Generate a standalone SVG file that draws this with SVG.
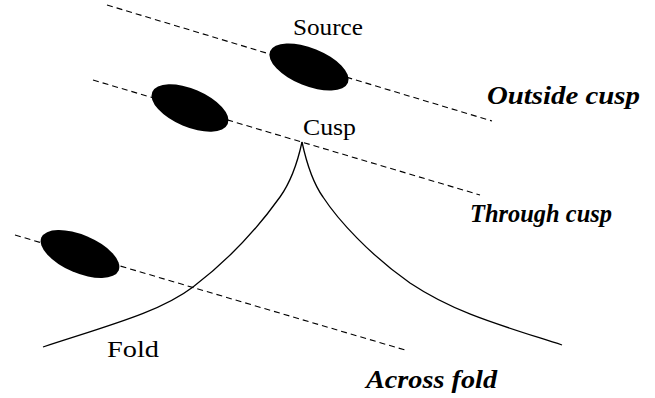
<svg xmlns="http://www.w3.org/2000/svg" width="655" height="398" viewBox="0 0 655 398">
<style>
.ray{stroke:#000;stroke-width:1.1;stroke-dasharray:6 4;fill:none}
.caustic{stroke:#000;stroke-width:1.3;fill:none}
.src{fill:#000}
.lbl{font-family:"Liberation Serif",serif;font-size:23px;fill:#000}
.cap{font-family:"Liberation Serif",serif;font-size:25px;font-style:italic;font-weight:bold;fill:#000}
</style>
<rect width="655" height="398" fill="#fff"/>
<g id="connectors">
<line class="ray" x1="107" y1="5" x2="492" y2="121"/>
<line class="ray" x1="93" y1="80" x2="480" y2="195"/>
<line class="ray" x1="15" y1="235" x2="405" y2="350"/>
</g>
<g id="caustic">
<path class="caustic" d="M302,142 C297,165 290,183 280,197 C265,218 235,255 193,287 C160,312 110,325 43,347"/>
<path class="caustic" d="M302,142 C307,165 313,183 323,197 C338,220 370,255 410,283 C455,313 500,325 562,345"/>
</g>
<g id="source-outside"><ellipse class="src" cx="309" cy="67" rx="42" ry="19" transform="rotate(22 309 67)"/></g>
<g id="source-through"><ellipse class="src" cx="190" cy="108" rx="41" ry="19" transform="rotate(23 190 108)"/></g>
<g id="source-across"><ellipse class="src" cx="80" cy="254" rx="42" ry="19" transform="rotate(23 80 254)"/></g>
<g id="label-source"><text class="lbl" x="293" y="35" textLength="70" lengthAdjust="spacingAndGlyphs">Source</text></g>
<g id="label-cusp"><text class="lbl" x="303" y="135" textLength="53" lengthAdjust="spacingAndGlyphs">Cusp</text></g>
<g id="label-fold"><text class="lbl" x="107" y="357" textLength="52" lengthAdjust="spacingAndGlyphs">Fold</text></g>
<g id="label-outside"><text class="cap" x="487" y="104" textLength="153" lengthAdjust="spacingAndGlyphs">Outside cusp</text></g>
<g id="label-through"><text class="cap" x="470" y="222" textLength="142" lengthAdjust="spacingAndGlyphs">Through cusp</text></g>
<g id="label-across"><text class="cap" x="366" y="388" textLength="131" lengthAdjust="spacingAndGlyphs">Across fold</text></g>
</svg>
